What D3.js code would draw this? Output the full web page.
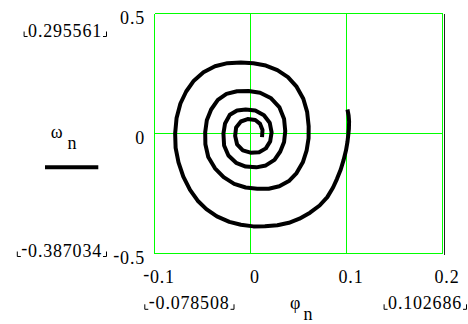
<!DOCTYPE html>
<html>
<head>
<meta charset="utf-8">
<script src="https://cdn.jsdelivr.net/npm/d3@7"></script>
<style>
  body { margin: 0; background: #fff; }
</style>
</head>
<body>
<div class="canvas"></div>
<script>
// Phase trajectory (phi_n, omega_n), outer end first
const phiValues = [
  0.1010, 0.1022, 0.1027, 0.1025, 0.1020, 0.1010, 0.0995, 0.0970, 0.0940, 0.0900,
  0.0860, 0.0800, 0.0720, 0.0620, 0.0510, 0.0400, 0.0280, 0.0150, 0.0030, -0.0100,
  -0.0220, -0.0350, -0.0460, -0.0550, -0.0630, -0.0700, -0.0750, -0.0780, -0.0785, -0.0770,
  -0.0730, -0.0670, -0.0590, -0.0490, -0.0370, -0.0240, -0.0100, 0.0030, 0.0160, 0.0280,
  0.0390, 0.0480, 0.0550, 0.0590, 0.0606, 0.0605, 0.0585, 0.0545, 0.0480, 0.0400,
  0.0300, 0.0190, 0.0070, -0.0050, -0.0170, -0.0280, -0.0370, -0.0440, -0.0470, -0.0472,
  -0.0455, -0.0410, -0.0340, -0.0250, -0.0140, -0.0020, 0.0100, 0.0210, 0.0300, 0.0350,
  0.0362, 0.0350, 0.0310, 0.0250, 0.0160, 0.0060, -0.0050, -0.0150, -0.0230, -0.0275,
  -0.0282, -0.0265, -0.0215, -0.0140, -0.0050, 0.0050, 0.0140, 0.0200, 0.0220, 0.0205,
  0.0160, 0.0090, 0.0000, -0.0080, -0.0140, -0.0160, -0.0150, -0.0100, -0.0030, 0.0050,
  0.0100, 0.0125, 0.0120
];
const omegaValues = [
  0.1000, 0.0750, 0.0500, 0.0200, 0.0000, -0.0350, -0.0700, -0.1100, -0.1500, -0.1900,
  -0.2250, -0.2650, -0.3000, -0.3300, -0.3550, -0.3720, -0.3820, -0.3865, -0.3870, -0.3800,
  -0.3680, -0.3450, -0.3150, -0.2800, -0.2350, -0.1800, -0.1200, -0.0600, 0.0000, 0.0650,
  0.1250, 0.1750, 0.2200, 0.2550, 0.2800, 0.2930, 0.2956, 0.2930, 0.2830, 0.2640,
  0.2350, 0.1950, 0.1450, 0.0900, 0.0300, -0.0200, -0.0700, -0.1200, -0.1650, -0.1980,
  -0.2200, -0.2300, -0.2300, -0.2250, -0.2100, -0.1820, -0.1450, -0.0980, -0.0450, 0.0050,
  0.0550, 0.1000, 0.1400, 0.1650, 0.1760, 0.1770, 0.1700, 0.1480, 0.1100, 0.0600,
  0.0100, -0.0350, -0.0750, -0.1100, -0.1330, -0.1410, -0.1380, -0.1220, -0.0920, -0.0500,
  0.0000, 0.0420, 0.0780, 0.0960, 0.1000, 0.0960, 0.0760, 0.0450, 0.0050, -0.0330,
  -0.0620, -0.0780, -0.0800, -0.0700, -0.0450, -0.0100, 0.0250, 0.0500, 0.0600, 0.0560,
  0.0400, 0.0150, -0.0150
];

// Axis ticks and the min / max readouts Mathcad prints beside the plot
const xTicks = [-0.1, 0, 0.1, 0.2];
const yTicks = [-0.5, 0, 0.5];
const xLimitLabels = ['-0.078508', '0.102686'];
const yLimitLabels = ['-0.387034', '0.295561'];

const svgWidth = 468;
const svgHeight = 324;
const serif = 'Liberation Serif';

const svg = d3.select('.canvas')
    .append('svg')
    .attr('width', svgWidth)
    .attr('height', svgHeight)
    .attr('font-family', serif);

// plot box
const plot = { left: 154.5, right: 442.5, top: 13.5, bottom: 253.5 };

const x = d3.scaleLinear()
    .domain([xTicks[0], xTicks[xTicks.length - 1]])
    .range([plot.left, plot.right]);

const y = d3.scaleLinear()
    .domain([yTicks[0], yTicks[yTicks.length - 1]])
    .range([plot.bottom, plot.top]);

const green = '#00ff00';
const fontSize = 18;

// grid lines (the outer ones double as the frame)
const grid = svg.append('g').attr('shape-rendering', 'crispEdges');

grid.selectAll('.vgrid')
    .data(xTicks)
    .enter().append('line')
    .attr('class', 'vgrid')
    .attr('x1', d => x(d)).attr('x2', d => x(d))
    .attr('y1', plot.top).attr('y2', plot.bottom)
    .attr('stroke', green);

grid.selectAll('.hgrid')
    .data(yTicks)
    .enter().append('line')
    .attr('class', 'hgrid')
    .attr('x1', plot.left).attr('x2', plot.right)
    .attr('y1', d => y(d)).attr('y2', d => y(d))
    .attr('stroke', green);

// thin dark edge just right of the frame
grid.append('line')
    .attr('x1', plot.right + 2).attr('x2', plot.right + 2)
    .attr('y1', plot.top).attr('y2', plot.bottom + 1)
    .attr('stroke', '#222');

// the trajectory
const points = phiValues.map((p, i) => [p, omegaValues[i]]);
const line = d3.line()
    .x(d => x(d[0]))
    .y(d => y(d[1]));

svg.append('path')
    .datum(points)
    .attr('d', line)
    .attr('fill', 'none')
    .attr('stroke', '#000')
    .attr('stroke-width', 4)
    .attr('stroke-linejoin', 'round')
    .attr('stroke-linecap', 'butt');

// write a number, Mathcad style: raised short minus in front
function writeNumber(textSel, str) {
    textSel.text('');
    if (str[0] === '-') {
        textSel.append('tspan').attr('dy', -2.5).text('-');
        textSel.append('tspan').attr('dy', 2.5).text(str.slice(1));
    } else {
        textSel.text(str);
    }
}

// x axis tick labels
const xAxis = d3.axisBottom(x)
    .tickValues(xTicks)
    .tickSize(0)
    .tickFormat(d => String(d));

const xAxisGroup = svg.append('g')
    .attr('transform', `translate(4, ${plot.bottom})`)
    .call(xAxis);
xAxisGroup.select('.domain').remove();
xAxisGroup.attr('font-size', fontSize).attr('font-family', serif);
xAxisGroup.selectAll('text')
    .attr('y', 29.2)
    .attr('dy', null)
    .attr('letter-spacing', 0.8)
    .each(function (d) { writeNumber(d3.select(this), String(d)); });

// y axis tick labels
const yAxis = d3.axisLeft(y)
    .tickValues(yTicks)
    .tickSize(0)
    .tickFormat(d => String(d));

const yAxisGroup = svg.append('g')
    .attr('transform', `translate(145, 0)`)
    .call(yAxis);
yAxisGroup.select('.domain').remove();
yAxisGroup.attr('font-size', fontSize).attr('font-family', serif);
yAxisGroup.selectAll('text')
    .attr('x', 0)
    .attr('y', 9.6)
    .attr('dy', null)
    .attr('letter-spacing', 0.8)
    .each(function (d) { writeNumber(d3.select(this), String(d)); });

// min/max readouts with their little corner brackets
function limitLabel(str, xEnd, baseline) {
    const t = svg.append('text')
        .attr('x', xEnd)
        .attr('y', baseline)
        .attr('text-anchor', 'end')
        .attr('font-size', fontSize)
        .attr('letter-spacing', 0.8);
    writeNumber(t, str);
    const box = t.node().getBBox();
    const left = box.x - 4;
    const right = xEnd + 1;
    svg.append('path')
        .attr('d', `M${left},${baseline - 5}V${baseline}H${left + 3.5}` +
                   `M${right},${baseline}H${right + 3.5}V${baseline - 5}`)
        .attr('fill', 'none')
        .attr('stroke', '#000')
        .attr('stroke-width', 1);
}

limitLabel(yLimitLabels[1], 102, 36.5);
limitLabel(yLimitLabels[0], 102, 256.5);
limitLabel(xLimitLabels[0], 229.5, 309.3);
limitLabel(xLimitLabels[1], 462, 309.3);

// axis names with subscripts
const yName = svg.append('text')
    .attr('x', 50.7)
    .attr('y', 138.3)
    .attr('font-size', fontSize);
yName.append('tspan').text('ω');
yName.append('tspan').attr('dx', 5).attr('dy', 10.7).text('n');

const xName = svg.append('text')
    .attr('x', 290)
    .attr('y', 308.5)
    .attr('font-size', fontSize);
xName.append('tspan').text('φ');
xName.append('tspan').attr('dx', 3).attr('dy', 11.5).text('n');

// legend sample
svg.append('line')
    .attr('x1', 45).attr('x2', 98.3)
    .attr('y1', 167.3).attr('y2', 167.3)
    .attr('stroke', '#000')
    .attr('stroke-width', 4);
</script>
</body>
</html>
